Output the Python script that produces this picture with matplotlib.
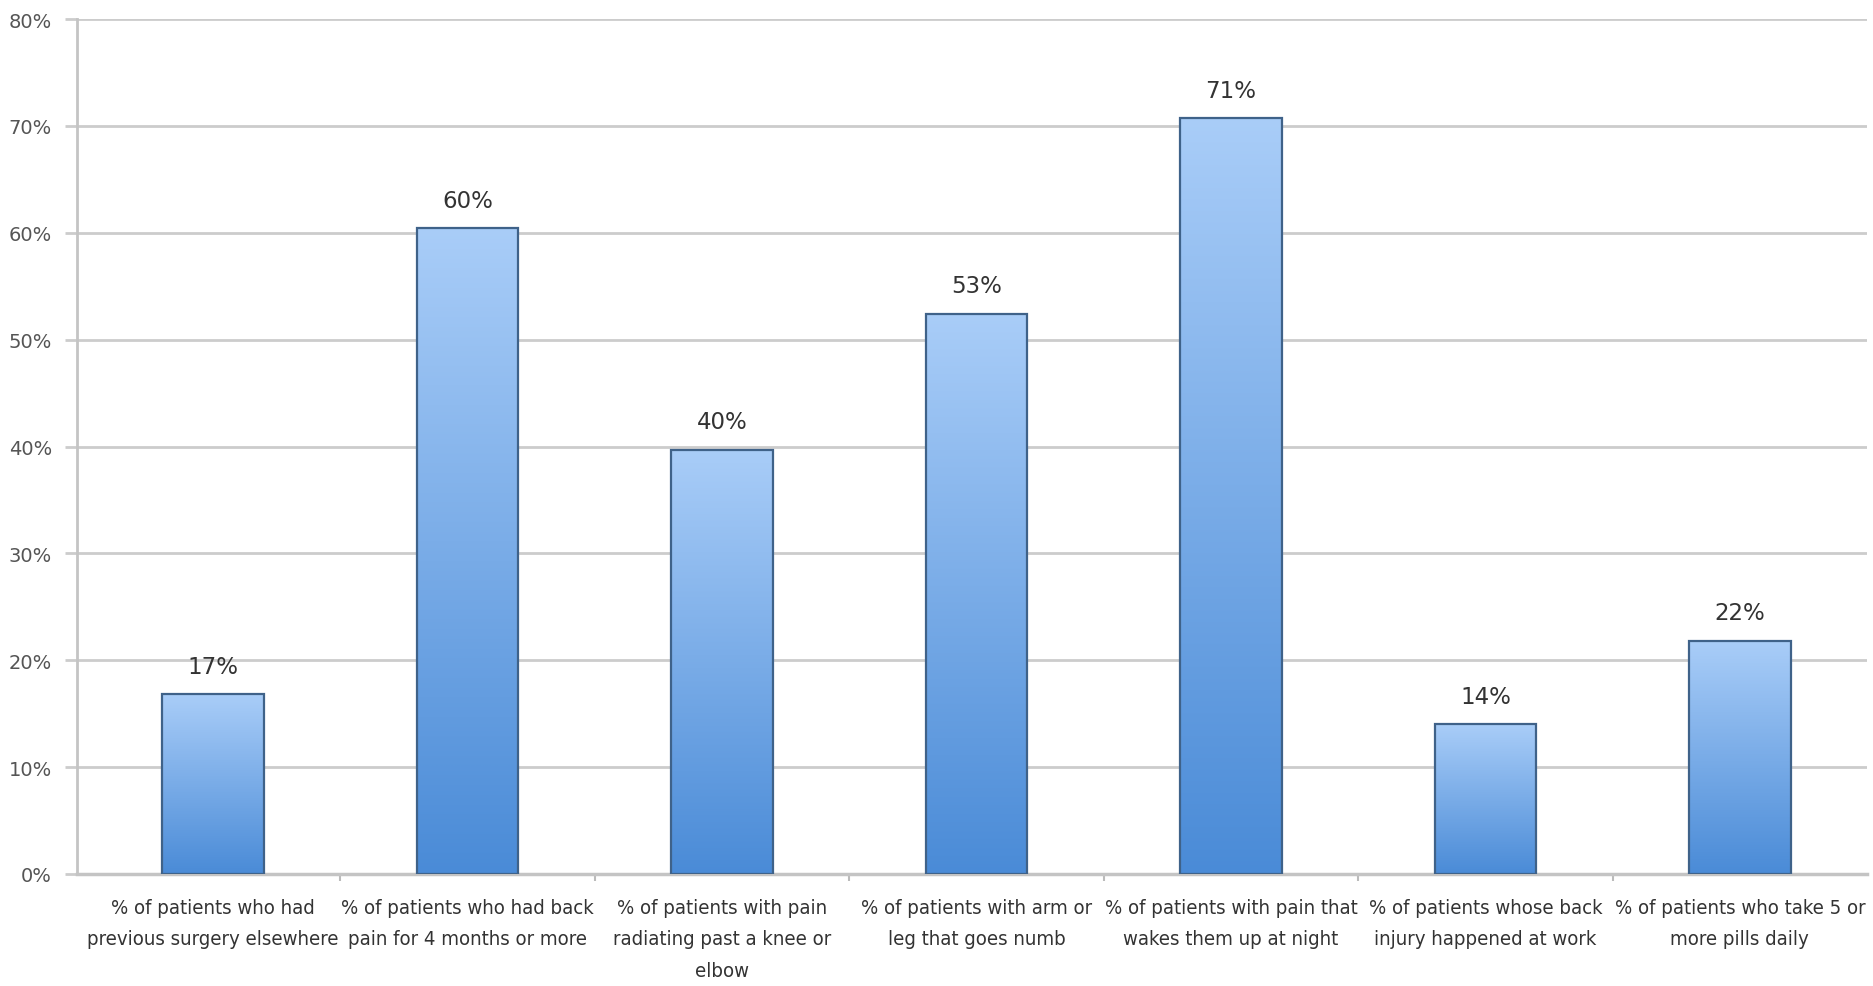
import matplotlib
matplotlib.use("Agg")
import matplotlib.pyplot as plt
import numpy as np
from matplotlib import font_manager
from matplotlib.font_manager import FontProperties
from matplotlib.colors import LinearSegmentedColormap

categories = [
    "% of patients who had\nprevious surgery elsewhere",
    "% of patients who had back\npain for 4 months or more",
    "% of patients with pain\nradiating past a knee or\nelbow",
    "% of patients with arm or\nleg that goes numb",
    "% of patients with pain that\nwakes them up at night",
    "% of patients whose back\ninjury happened at work",
    "% of patients who take 5 or\nmore pills daily",
]
values = [16.8, 60.4, 39.7, 52.4, 70.7, 14.0, 21.8]
value_labels = ["17%", "60%", "40%", "53%", "71%", "14%", "22%"]
yticks = [0, 10, 20, 30, 40, 50, 60, 70, 80]
ytick_labels = ["0%", "10%", "20%", "30%", "40%", "50%", "60%", "70%", "80%"]

# pick a condensed / narrow font if one is installed
cand = None
files = [f.fname for f in font_manager.fontManager.ttflist]
for key in ["LiberationSansNarrow-Regular", "DejaVuSansCondensed.ttf", "Condensed", "Narrow"]:
    hits = [f for f in files if key.lower() in f.lower() and "bold" not in f.lower()
            and "oblique" not in f.lower() and "italic" not in f.lower()]
    if hits:
        cand = hits[0]
        break
if cand:
    cat_fp = FontProperties(fname=cand, size=14.6)
else:
    cat_fp = FontProperties(family="DejaVu Sans", size=13.2)

fig = plt.figure(figsize=(18.74, 9.87), dpi=100)
ax = fig.add_axes([0.0411, 0.1135, 0.9552, 0.8662])

x = np.arange(len(values))
width = 0.40
bars = ax.bar(x, values, width=width, color="none", edgecolor="#3f6289",
              linewidth=1.6, zorder=4)

cmap = LinearSegmentedColormap.from_list("g", ["#4a8bd7", "#a9cdf8"])
grad = np.linspace(0, 1, 256).reshape(-1, 1)
for b in bars:
    x0, y0 = b.get_x(), b.get_y()
    w, h = b.get_width(), b.get_height()
    im = ax.imshow(grad, cmap=cmap, origin="lower", aspect="auto",
                   extent=[x0, x0 + w, y0, y0 + h], zorder=3, interpolation="bicubic")
    im.set_clip_path(b)

for xi, v, lab in zip(x, values, value_labels):
    ax.annotate(lab, (xi, v), xytext=(0, 12), textcoords="offset points",
                ha="center", va="bottom", fontsize=16.5, color="#333333",
                family="DejaVu Sans", zorder=5)

ax.set_xlim(-0.535, 6.5)
ax.set_ylim(0, 80)
ax.set_yticks(yticks)
ax.set_yticklabels(ytick_labels, fontsize=14, color="#555555")
ax.yaxis.grid(True, color="#cccccc", linewidth=2.0, zorder=0)
ax.set_axisbelow(True)

ax.set_xticks(x)
ax.set_xticklabels(categories, fontproperties=cat_fp, color="#333333",
                   linespacing=1.85)
ax.tick_params(axis="x", length=0, pad=17)
ax.set_xticks(np.arange(0.5, 6.5, 1.0), minor=True)
ax.tick_params(axis="x", which="minor", length=5, width=1.5, color="#bbbbbb")
ax.tick_params(axis="y", length=9, width=2, color="#cccccc", pad=9)

for s in ["top", "right"]:
    ax.spines[s].set_visible(False)
ax.spines["left"].set_color("#c4c4c4")
ax.spines["left"].set_linewidth(2)
ax.spines["bottom"].set_color("#c4c4c4")
ax.spines["bottom"].set_linewidth(2.5)

fig.savefig("out.png", dpi=100)
